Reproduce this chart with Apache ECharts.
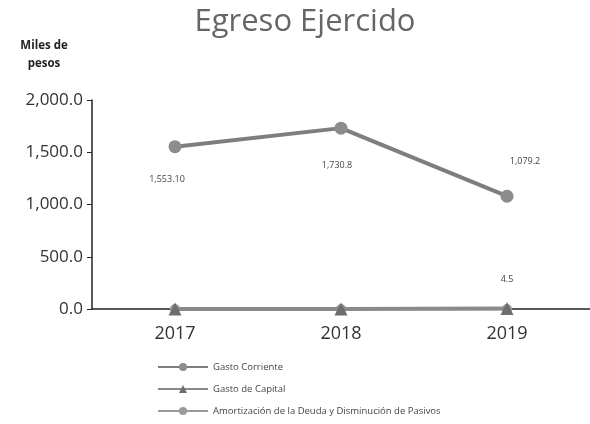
<!DOCTYPE html>
<html>
<head>
<meta charset="utf-8">
<script src="https://cdn.jsdelivr.net/npm/echarts@6/dist/echarts.min.js"></script>
<style>html,body{margin:0;padding:0;background:#fff;}#c{width:590px;height:424px;}</style>
</head>
<body>
<div id="c"></div>
<script>
var categories = ['2017', '2018', '2019'];
var gastoCorriente = [1553.10, 1730.8, 1079.2];
var gastoCapital = [0, 0, 4.5];
var amortizacion = [0, 0, 0];
var labelsCorriente = ['1,553.10', '1,730.8', '1,079.2'];
var yTicks = [0, 500, 1000, 1500, 2000];

var font = "'Open Sans', 'Liberation Sans', sans-serif";
var chart = echarts.init(document.getElementById('c'));

function fmt(v) {
  return v.toFixed(1).replace(/\B(?=(\d{3})+(?!\d))/g, ',');
}

var corrLabelCfg = [
  {position: 'bottom', distance: 22, offset: [-8, 0]},
  {position: 'bottom', distance: 26, offset: [-4, 0]},
  {position: 'top', distance: 24, offset: [18, 0]}
];

chart.setOption({
  animation: false,
  title: {
    text: 'Egreso Ejercido',
    left: 300, top: 2, textAlign: 'center',
    textStyle: {fontFamily: font, fontSize: 31, fontWeight: 'normal', color: '#666'}
  },
  graphic: [
    {type: 'text', x: 44, y: 37, style: {text: 'Miles de\npesos', font: 'bold 11.5px ' + font, fill: '#222', lineHeight: 18, align: 'center'}}
  ],
  legend: {
    orient: 'vertical', left: 152, top: 357, itemGap: 12,
    itemWidth: 50, itemHeight: 10,
    textStyle: {fontFamily: font, fontSize: 9.5, color: '#444'},
    data: ['Gasto Corriente', 'Gasto de Capital', 'Amortización de la Deuda y Disminución de Pasivos']
  },
  grid: {left: 92, right: 0, top: 100, bottom: 115},
  xAxis: {
    type: 'category', data: categories, boundaryGap: true,
    axisLine: {lineStyle: {color: '#222', width: 1.5}},
    axisTick: {show: false},
    axisLabel: {fontFamily: font, fontSize: 18, color: '#333', margin: 16}
  },
  yAxis: {
    type: 'value', min: 0, max: 2000, interval: 500,
    axisLine: {show: true, lineStyle: {color: '#222', width: 1.5}},
    axisTick: {show: true, length: 5, lineStyle: {color: '#222'}},
    splitLine: {show: false},
    axisLabel: {fontFamily: font, fontSize: 17, color: '#333', margin: 9, formatter: function(v){return fmt(v);}}
  },
  series: [
    {
      name: 'Gasto Corriente', type: 'line', z: 3,
      symbol: 'circle', symbolSize: 13,
      lineStyle: {color: '#7e7e7e', width: 4},
      itemStyle: {color: '#8c8c8c'},
      data: gastoCorriente.map(function(v, i){
        return {value: v, label: {show: true, position: corrLabelCfg[i].position, distance: corrLabelCfg[i].distance, offset: corrLabelCfg[i].offset, formatter: labelsCorriente[i]}};
      }),
      label: {fontFamily: font, fontSize: 9, color: '#444'}
    },
    {
      name: 'Amortización de la Deuda y Disminución de Pasivos', type: 'line', z: 2,
      symbol: 'circle', symbolSize: 10,
      lineStyle: {color: '#9a9a9a', width: 3},
      itemStyle: {color: '#9a9a9a'},
      data: amortizacion
    },
    {
      name: 'Gasto de Capital', type: 'line', z: 4,
      symbol: 'triangle', symbolSize: 13,
      lineStyle: {color: '#8a8a8a', width: 4},
      itemStyle: {color: '#6e6e6e'},
      data: gastoCapital.map(function(v, i){
        return {value: v, label: {show: i === 2, position: 'top', distance: 18, formatter: '4.5'}};
      }),
      label: {fontFamily: font, fontSize: 9, color: '#444'}
    }
  ]
});
</script>
</body>
</html>
